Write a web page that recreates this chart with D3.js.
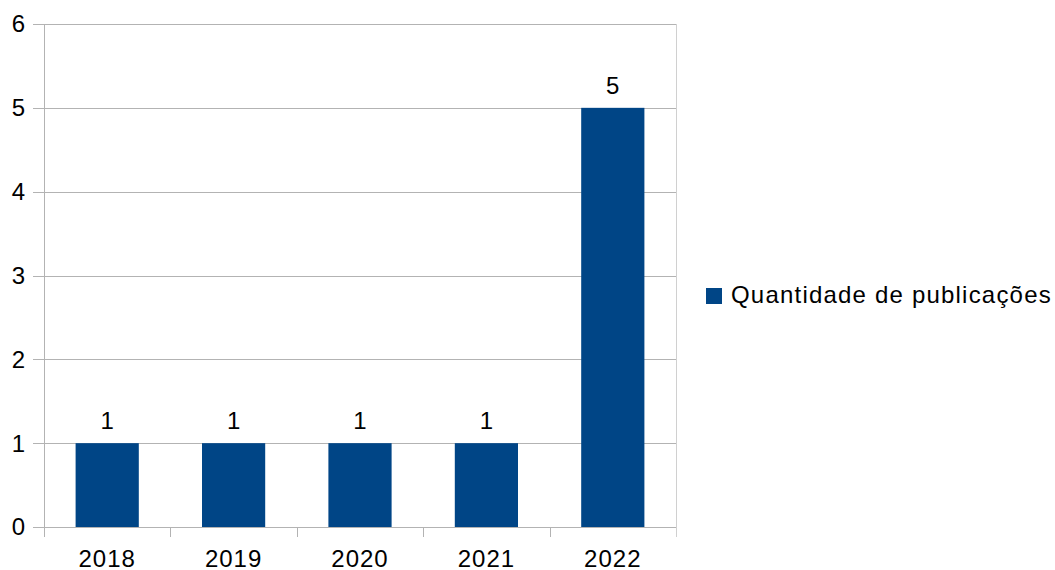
<!DOCTYPE html>
<html>
<head>
<meta charset="utf-8">
<script src="https://cdn.jsdelivr.net/npm/d3@7"></script>
<style>
  html, body { margin: 0; padding: 0; background: #fff; }
  text { font-family: "Liberation Sans", Arial, sans-serif; fill: #000; }
</style>
</head>
<body>
<svg id="chart" width="1055" height="570"></svg>
<script>
// Publications per year
const years = ["2018", "2019", "2020", "2021", "2022"];
const publications = [1, 1, 1, 1, 5];
const yTicks = [0, 1, 2, 3, 4, 5, 6];
const seriesName = "Quantidade de publicações";

const svg = d3.select("#chart");
const plot = { left: 44, right: 676, top: 24, bottom: 527 };
const barColor = "#004586";
const gridColor = "#b3b3b3";
const fontSize = 24;

const x = d3.scaleBand()
  .domain(years)
  .range([plot.left, plot.right])
  .paddingInner(0.5)
  .paddingOuter(0.25);

const xBounds = d3.scaleBand().domain(years).range([plot.left, plot.right]);

const y = d3.scaleLinear()
  .domain([0, 6])
  .range([plot.bottom, plot.top]);

// horizontal gridlines with outward ticks
svg.append("g")
  .selectAll("line")
  .data(yTicks)
  .join("line")
  .attr("x1", plot.left - 11)
  .attr("x2", plot.right)
  .attr("y1", d => Math.round(y(d)) + 0.5)
  .attr("y2", d => Math.round(y(d)) + 0.5)
  .attr("stroke", gridColor)
  .attr("stroke-width", 1);

// y axis labels
svg.append("g")
  .selectAll("text")
  .data(yTicks)
  .join("text")
  .attr("x", plot.left - 19)
  .attr("y", d => y(d))
  .attr("dy", "0.35em")
  .attr("text-anchor", "end")
  .style("font-size", fontSize + "px")
  .text(d => d);

// vertical axis line and right border
svg.append("line")
  .attr("x1", plot.left + 0.5).attr("x2", plot.left + 0.5)
  .attr("y1", plot.top).attr("y2", plot.bottom + 10)
  .attr("stroke", gridColor);
svg.append("line")
  .attr("x1", plot.right + 0.5).attr("x2", plot.right + 0.5)
  .attr("y1", plot.top).attr("y2", plot.bottom + 10)
  .attr("stroke", "#d0d0d0");

// category boundary ticks below the axis
svg.append("g")
  .selectAll("line")
  .data(years.slice(1))
  .join("line")
  .attr("x1", d => Math.round(xBounds(d)) + 0.5)
  .attr("x2", d => Math.round(xBounds(d)) + 0.5)
  .attr("y1", plot.bottom)
  .attr("y2", plot.bottom + 10)
  .attr("stroke", gridColor);

// bars
svg.append("g")
  .selectAll("rect")
  .data(years)
  .join("rect")
  .attr("x", d => x(d))
  .attr("width", x.bandwidth())
  .attr("y", (d, i) => y(publications[i]))
  .attr("height", (d, i) => y(0) - y(publications[i]))
  .attr("fill", barColor);

// value labels
svg.append("g")
  .selectAll("text")
  .data(years)
  .join("text")
  .attr("x", d => x(d) + x.bandwidth() / 2)
  .attr("y", (d, i) => y(publications[i]) - 14)
  .attr("text-anchor", "middle")
  .style("font-size", fontSize + "px")
  .text((d, i) => publications[i]);

// x axis labels
svg.append("g")
  .selectAll("text")
  .data(years)
  .join("text")
  .attr("x", d => xBounds(d) + xBounds.bandwidth() / 2)
  .attr("y", 567)
  .attr("text-anchor", "middle")
  .style("font-size", fontSize + "px")
  .style("letter-spacing", "1px")
  .text(d => d);

// legend
const legend = svg.append("g").attr("transform", "translate(706,288)");
legend.append("rect")
  .attr("width", 16).attr("height", 16)
  .attr("fill", barColor);
legend.append("text")
  .attr("x", 25)
  .attr("y", 15)
  .style("font-size", fontSize + "px")
  .style("letter-spacing", "1.2px")
  .text(seriesName);
</script>
</body>
</html>
